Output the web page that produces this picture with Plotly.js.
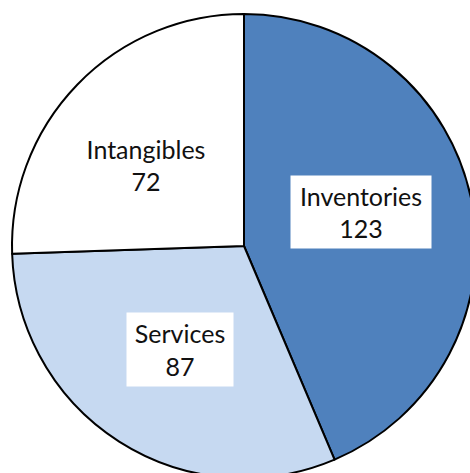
<!DOCTYPE html>
<html>
<head>
<meta charset="utf-8">
<script src="https://cdn.plot.ly/plotly-3.0.1.min.js"></script>
<style>
html,body{margin:0;padding:0;overflow:hidden;background:#fff;}
#chart{width:490px;height:490px;}
</style>
</head>
<body>
<div id="chart"></div>
<script>
const categories = ["Inventories", "Services", "Intangibles"];
const values = [123, 87, 72];
const sliceColors = ["#4F81BD", "#C6D9F1", "#FFFFFF"];

const W = 490, H = 490;
// label box centres in pixels (layout only)
const labelPos = [[361, 212], [180, 349.5], [146, 165]];
const labelSize = [[140, 72], [106, 73], [130, 72]];

const trace = {
  type: "pie",
  labels: categories,
  values: values,
  sort: false,
  direction: "clockwise",
  rotation: 0,
  textinfo: "none",
  hoverinfo: "label+value",
  marker: {colors: sliceColors, line: {color: "#000000", width: 2}},
  domain: {x: [12 / W, 476 / W], y: [(H - 478) / H, (H - 14) / H]},
  showlegend: false
};

const annotations = categories.map((c, i) => ({
  xref: "paper", yref: "paper",
  x: labelPos[i][0] / W, y: 1 - labelPos[i][1] / H,
  xanchor: "center", yanchor: "middle",
  text: c + "<br>" + values[i],
  showarrow: false,
  align: "center",
  bgcolor: "#FFFFFF",
  width: labelSize[i][0], height: labelSize[i][1],
  borderpad: 0,
  font: {family: "Lato, 'Open Sans', sans-serif", size: 25, color: "#111111"}
}));

Plotly.newPlot("chart", [trace], {
  width: W, height: H,
  margin: {l: 0, r: 0, t: 0, b: 0},
  paper_bgcolor: "#FFFFFF",
  showlegend: false,
  annotations: annotations
}, {staticPlot: true});
</script>
</body>
</html>
